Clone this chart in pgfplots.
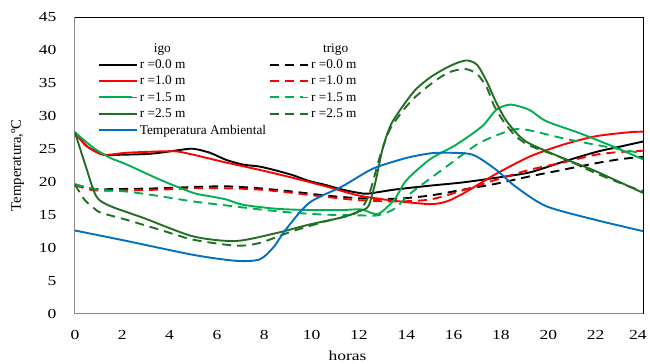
\documentclass[border=0pt]{standalone}
\usepackage{fontspec}
\setmainfont{Liberation Serif}
\usepackage{pgfplots}
\pgfplotsset{compat=1.18}
\usetikzlibrary{calc}
\definecolor{cgreen}{RGB}{0,176,80}
\definecolor{cdkgreen}{RGB}{34,110,34}
\definecolor{cblue}{RGB}{0,112,192}
\definecolor{cgray}{RGB}{140,140,140}
\begin{document}
\begin{tikzpicture}
\begin{axis}[name=ax, scale only axis, width=569pt, height=297pt,
  xmin=0, xmax=24, ymin=0, ymax=45,
  xtick={0,2,...,24}, ytick={0,5,...,45},
  xticklabels={0,2,4,6,8,10,12,14,16,18,20,22,\hspace*{-8pt}24},
  axis line style={cgray, line width=0.8pt},
  tick style={draw=none},
  /pgf/number format/assume math mode=true,
  tick label style={font=\fontsize{13.8}{15}\selectfont, xscale=1.27},
  xticklabel style={yshift=-13pt},
  yticklabel style={xshift=-11pt},
  xlabel={horas}, ylabel={Temperatura,ºC},
  xlabel style={font=\fontsize{13.8}{15}\selectfont, xscale=1.27, at={(axis description cs:0.48,-0.142)}, anchor=center},
  ylabel style={font=\fontsize{14.7}{16}\selectfont, at={(axis description cs:-0.101,0.5)}, anchor=center},
  legend style={at={(axis description cs:0.035,0.925)}, anchor=north west,
    draw=none, fill=none, font=\fontsize{13.3}{15}\selectfont,
    /tikz/every even column/.append style={column sep=82pt},
    row sep=2pt},
  legend columns=2, legend cell align=left,
  legend image code/.code={\path (0pt,0pt) -- (38pt,0pt); \draw[#1, line width=2pt] (0pt,0pt) -- (33pt,0pt);},
  every axis plot/.append style={line width=1.9pt, smooth, tension=0.45},
]
\addlegendimage{empty legend}\addlegendentry{\hspace{14pt}igo}
\addlegendimage{empty legend}\addlegendentry{\hspace{12pt}trigo}
% r=0.0 igo
\addplot[black] coordinates {(0,27.5) (0.5,25.4) (1.2,24.1) (2,24.1) (3,24.2) (3.6,24.4) (4.4,24.8) (5,25.0) (5.7,24.4) (6.4,23.3) (7.1,22.6) (7.8,22.3) (8.5,21.7) (9.2,21.0) (9.9,20.1) (10.6,19.5) (11.3,18.8) (12,18.3) (12.4,18.2) (13.5,18.8) (15,19.4) (16.4,19.9) (17.8,20.6) (19.2,21.4) (20.6,23.0) (22,24.5) (23,25.3) (24,26.1)};
\addlegendentry{r =0.0 m}
% r=0.0 trigo
\addplot[black, dash pattern=on 9pt off 6pt] coordinates {(0,19.6) (0.8,18.9) (2,18.9) (3.6,19.0) (5,19.2) (6.4,19.3) (7.8,19.0) (9.2,18.5) (10.6,17.9) (12,17.5) (13.5,17.4) (15,17.9) (16.4,18.8) (17.8,19.7) (19.2,20.8) (20.6,21.8) (22,22.8) (23,23.4) (24,23.8)};
\addlegendentry{r =0.0 m}
% r=1.0 igo
\addplot[red] coordinates {(0,27.5) (0.5,25.4) (1.2,24.1) (2.2,24.4) (3.6,24.6) (4.3,24.6) (5,24.1) (5.7,23.5) (6.4,22.9) (7.8,21.8) (9.2,20.6) (10.6,19.3) (12,17.9) (13.5,17.1) (15,16.6) (15.7,17.0) (16.4,18.2) (17.1,19.7) (17.8,21.2) (19.2,23.8) (20.6,25.6) (22,26.9) (23.4,27.5) (24,27.6)};
\addlegendentry{r =1.0 m}
% r=1.0 trigo
\addplot[red, dash pattern=on 9pt off 6pt] coordinates {(0,19.5) (0.8,18.7) (2.2,18.7) (3.6,18.8) (5,19.0) (6.4,19.0) (7.8,18.8) (9.2,18.3) (10.6,17.7) (12,17.2) (13.5,17.0) (15,17.3) (16.4,18.7) (17.8,20.3) (19.2,21.8) (20.6,22.9) (22,24.1) (23,24.5) (24,24.7)};
\addlegendentry{r =1.0 m}
% r=1.5 igo
\addplot[cgreen] coordinates {(0,27.5) (0.8,25.1) (1.5,23.6) (2.2,22.6) (3.6,20.3) (5,18.3) (5.7,17.8) (6.4,17.3) (7.1,16.5) (8.5,15.9) (9.9,15.7) (11.3,15.7) (12.1,15.8) (12.8,15.1) (13.5,17.3) (14,20.2) (15,23.4) (16.1,25.6) (17.2,28.4) (17.8,30.9) (18.4,31.7) (19.2,30.9) (19.9,29.2) (21.3,27.4) (22.7,25.4) (24,23.4)};
\addlegendentry{r =1.5 m}
% r=1.5 trigo
\addplot[cgreen, dash pattern=on 9pt off 6pt] coordinates {(0,19.6) (1,18.8) (2.2,18.5) (3.6,17.8) (5,17.0) (6.4,16.4) (7.8,15.8) (9.2,15.3) (10.6,15.0) (12,14.9) (12.8,14.9) (13.5,15.9) (14.2,18.3) (15.7,22.3) (17.1,25.9) (18.5,27.9) (19.2,27.8) (20.6,26.6) (22,25.6) (24,24.3)};
\addlegendentry{r =1.5 m}
% r=2.5 igo
\addplot[cdkgreen] coordinates {(0,27.5) (0.42,22.8) (0.9,17.8) (1.5,16.3) (2.9,14.5) (5,11.7) (6.8,11.0) (8.5,12.2) (9.9,13.5) (11.3,14.6) (12,15.5) (12.4,16.3) (12.7,20.0) (13.0,25.0) (13.4,29.0) (14.3,33.6) (15.0,35.8) (15.7,37.3) (16.2,38.1) (16.6,38.4) (17.0,37.7) (17.4,35.2) (17.8,32.0) (18.2,29.4) (18.7,27.2) (19.2,25.8) (20.6,23.6) (22,21.6) (24,18.3)};
\addlegendentry{r =2.5 m}
% r=2.5 trigo
\addplot[cdkgreen, dash pattern=on 9pt off 6pt] coordinates {(0,19.6) (0.4,17.3) (0.8,16.0) (1.1,15.3) (2.2,14.2) (3.6,12.7) (5,11.2) (6.8,10.3) (7.8,10.7) (9.2,12.5) (10.6,14.0) (11.9,15.3) (12.4,17.8) (12.9,24.0) (13.3,27.9) (13.8,30.5) (14.3,32.6) (15.1,35.0) (15.8,36.6) (16.5,37.1) (17.0,36.3) (17.4,34.3) (17.7,31.6) (18.1,29.2) (18.6,27.0) (19.2,25.5) (20.6,23.6) (22,21.3) (23.4,19.3) (24,18.6)};
\addlegendentry{r =2.5 m}
% ambient
\addplot[cblue] coordinates {(0,12.6) (2.2,11.0) (5,8.9) (6.8,8.0) (7.8,8.2) (8.4,10.1) (8.9,12.7) (9.9,16.8) (11.3,19.3) (12.6,22.0) (14,23.6) (15,24.3) (15.7,24.4) (16.8,24.1) (17.8,21.8) (18.6,19.3) (19.9,16.3) (22,14.2) (24,12.5)};
\addlegendentry{\makebox[0pt][l]{\rule[-9pt]{0pt}{9pt}Temperatura Ambiental}}
\end{axis}
\draw[black, line width=0.8pt] (ax.north west) -- (ax.north east) -- (ax.south east);
\pgfresetboundingbox
\path[use as bounding box] ($(ax.south west)+(-75pt,-50pt)$) rectangle ($(ax.north east)+(7pt,17pt)$);
\end{tikzpicture}
\end{document}
